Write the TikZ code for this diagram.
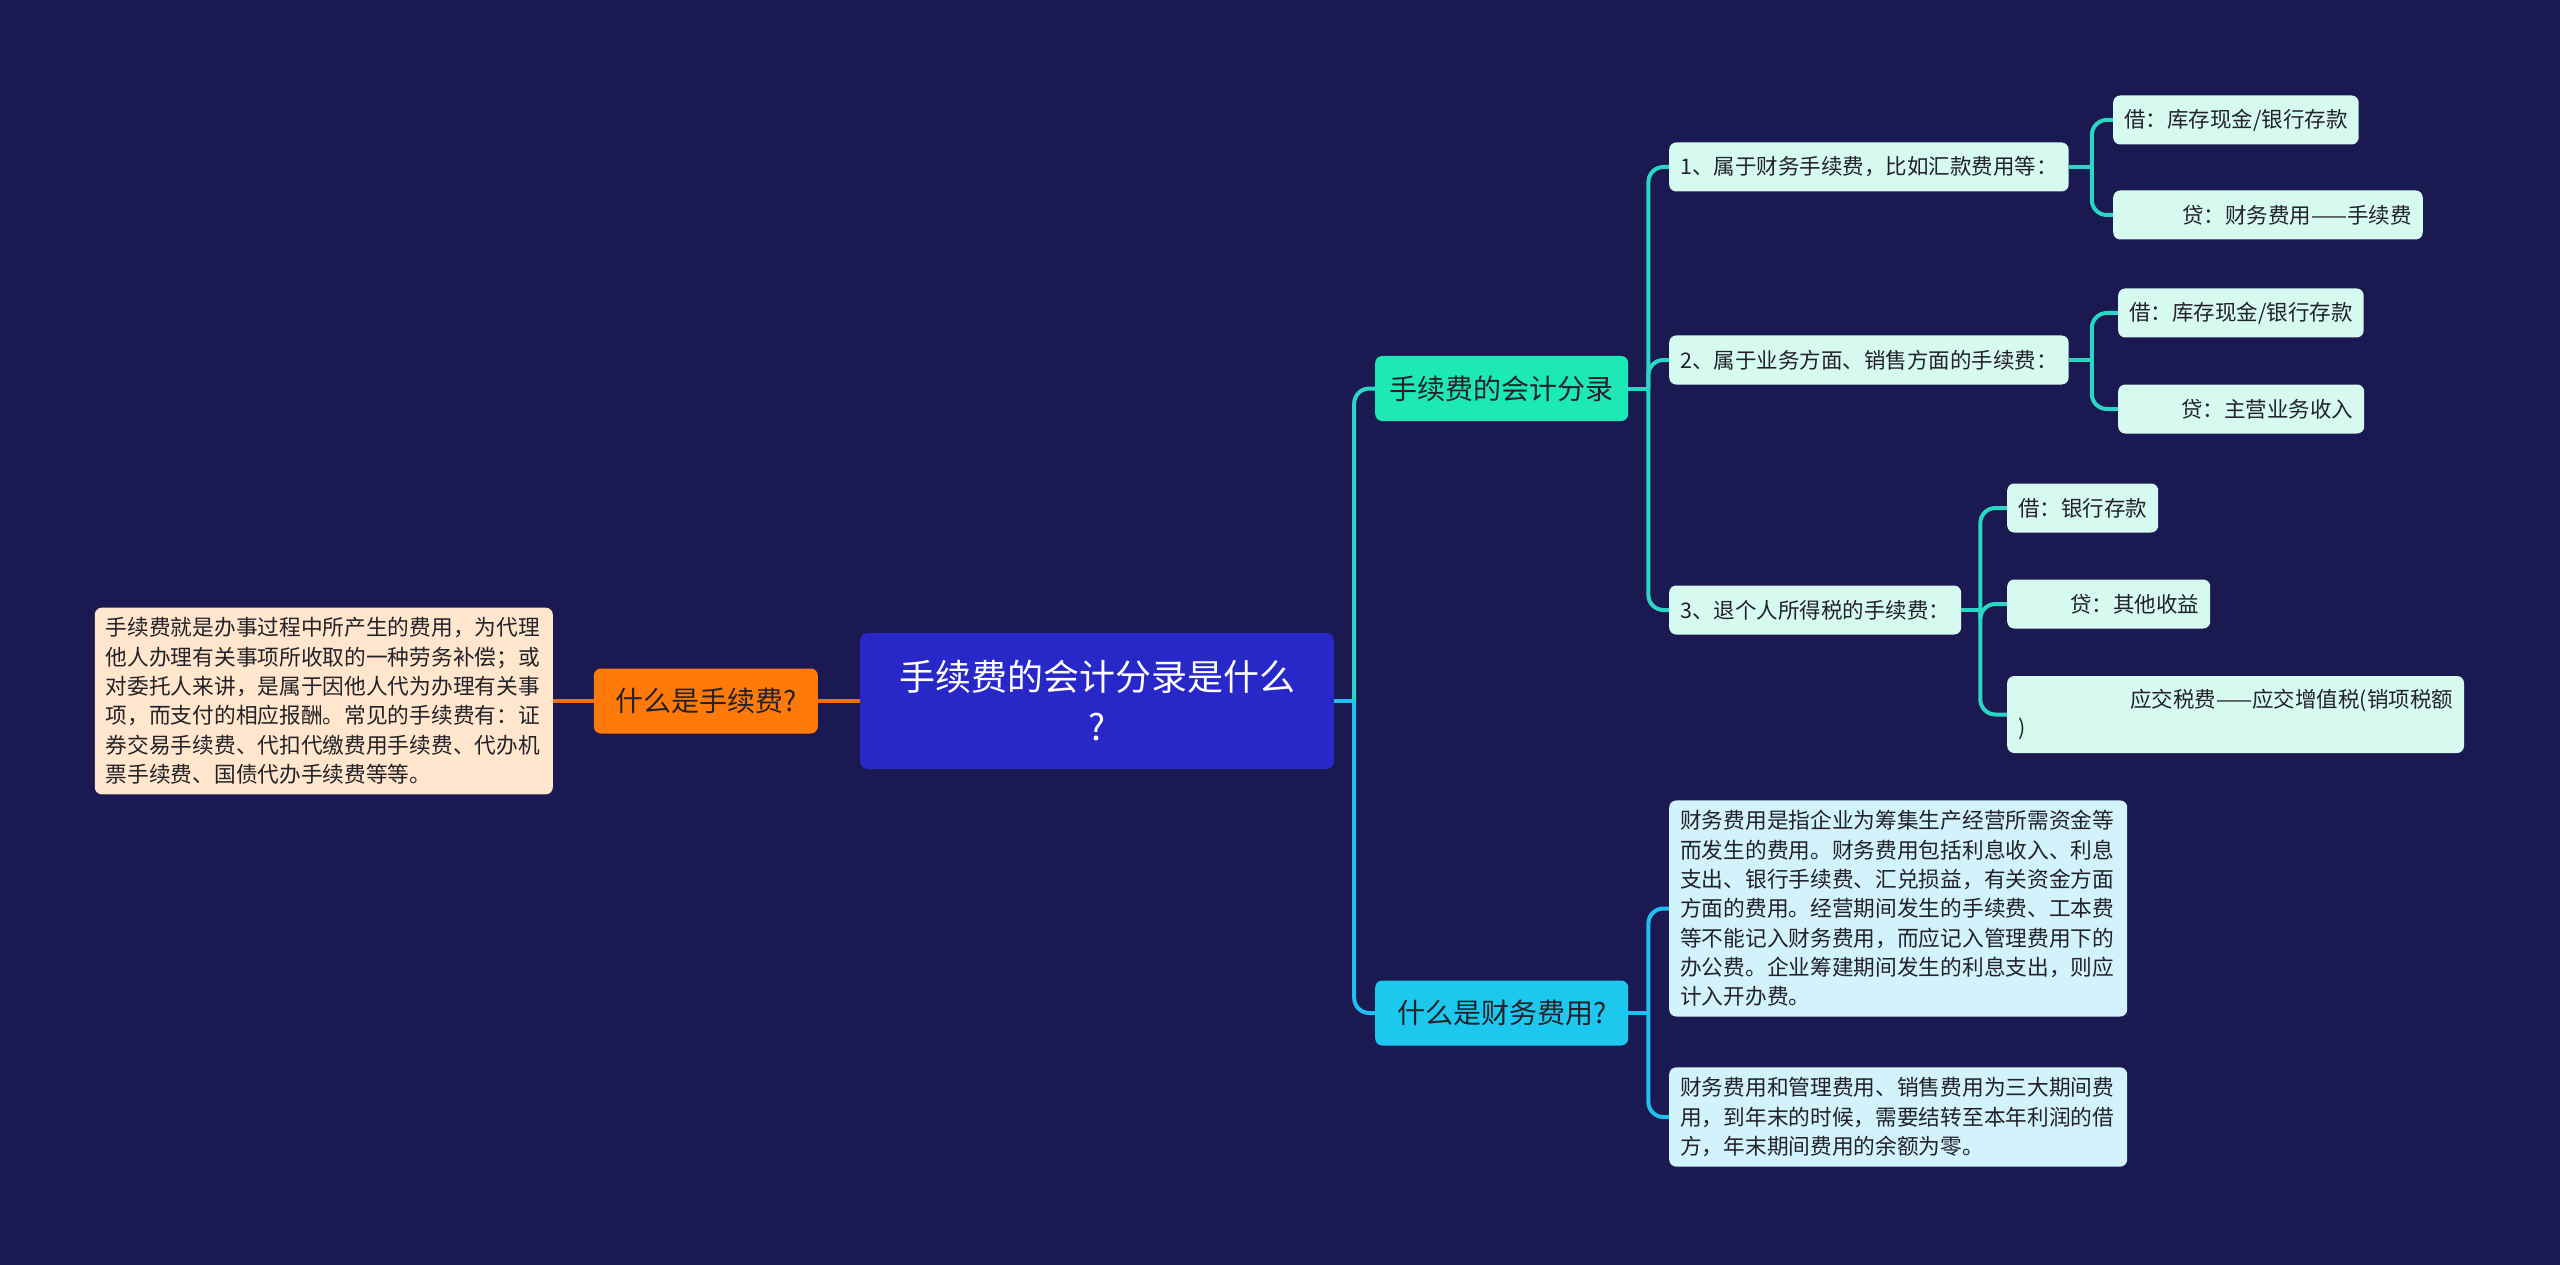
\documentclass[tikz,border=0pt]{standalone}
\usepackage{fontspec}
\setmainfont{Noto Sans CJK SC}
\usepackage{xcolor}
\usepackage{tikz}
\usetikzlibrary{positioning}
\definecolor{mmNavy}{RGB}{27,25,82}
\definecolor{mmRoot}{RGB}{40,40,200}
\definecolor{mmOrange}{RGB}{255,122,8}
\definecolor{mmOrangeLine}{RGB}{236,112,28}
\definecolor{mmPeach}{RGB}{255,230,205}
\definecolor{mmGreen}{RGB}{29,233,182}
\definecolor{mmCyan}{RGB}{28,200,238}
\definecolor{mmMint}{RGB}{214,250,240}
\definecolor{mmSky}{RGB}{210,242,252}
\definecolor{mmTeal}{RGB}{44,214,196}
\definecolor{mmSkyLine}{RGB}{35,190,240}
\definecolor{mmInk}{RGB}{34,34,40}

\begin{document}
\begin{tikzpicture}[x=1pt, y=-1pt,
  rootbox/.style={fill=mmRoot, rounded corners=8pt, text=white, align=center,
    minimum width=474pt, minimum height=136pt, inner sep=0pt,
    font=\fontsize{36}{50}\selectfont},
  topic/.style={rounded corners=7pt, text=mmInk, minimum width=253pt, minimum height=65pt,
    inner sep=0pt, font=\fontsize{28}{34}\selectfont},
  leaf/.style={fill=mmMint, rounded corners=7pt, text=mmInk, anchor=west, align=left,
    minimum height=49pt, inner xsep=11pt, inner ysep=0pt, font=\fontsize{21.5}{28}\selectfont},
  note/.style={rounded corners=7pt, text=mmInk, align=left, text width=436pt,
    inner xsep=11pt, inner ysep=10pt, font=\fontsize{21.7}{29.3}\selectfont},
  line/.style={line width=4pt, rounded corners=15pt},
  tealline/.style={line, draw=mmTeal},
  skyline/.style={line, draw=mmSkyLine},
  orangeline/.style={line, draw=mmOrangeLine}
]
\fill[mmNavy] (0,0) rectangle (2560,1265);

\node[rootbox] (root) at (1097,701) {手续费的会计分录是什么\\?};

\node[topic, fill=mmOrange, minimum width=224pt, anchor=east] (whatFee) at (818,701) {什么是手续费?};
\node[note, fill=mmPeach, anchor=east] (feeNote) at (553,701)
  {手续费就是办事过程中所产生的费用，为代理\\
   他人办理有关事项所收取的一种劳务补偿；或\\
   对委托人来讲，是属于因他人代为办理有关事\\
   项，而支付的相应报酬。常见的手续费有：证\\
   券交易手续费、代扣代缴费用手续费、代办机\\
   票手续费、国债代办手续费等等。};

\node[topic, fill=mmGreen, anchor=west] (entry) at (1375,388.5) {手续费的会计分录};
\node[topic, fill=mmCyan, anchor=west] (whatCost) at (1375,1013) {什么是财务费用?};

\node[leaf] (caseA) at (1669,167) {1、属于财务手续费，比如汇款费用等：};
\node[leaf] (caseB) at (1669,360) {2、属于业务方面、销售方面的手续费：};
\node[leaf] (caseC) at (1669,610) {3、退个人所得税的手续费：};

\node[leaf] (caseADebit) at (2113,120) {借：库存现金/银行存款};
\node[leaf] (caseACredit) at (2113,215) {\hspace*{58pt}贷：财务费用——手续费};
\node[leaf] (caseBDebit) at (2118,313) {借：库存现金/银行存款};
\node[leaf] (caseBCredit) at (2118,409) {\hspace*{52pt}贷：主营业务收入};
\node[leaf] (caseCDebit) at (2007,508) {借：银行存款};
\node[leaf] (caseCCredit) at (2007,604) {\hspace*{52pt}贷：其他收益};
\node[leaf, minimum height=77pt] (caseCTax) at (2007,714.5)
  {\hspace*{112pt}应交税费——应交增值税(销项税额\\)};

\node[note, fill=mmSky, anchor=west] (costDef) at (1669,908.5)
  {财务费用是指企业为筹集生产经营所需资金等\\
   而发生的费用。财务费用包括利息收入、利息\\
   支出、银行手续费、汇兑损益，有关资金方面\\
   方面的费用。经营期间发生的手续费、工本费\\
   等不能记入财务费用，而应记入管理费用下的\\
   办公费。企业筹建期间发生的利息支出，则应\\
   计入开办费。};
\node[note, fill=mmSky, anchor=west] (costYear) at (1669,1117)
  {财务费用和管理费用、销售费用为三大期间费\\
   用，到年末的时候，需要结转至本年利润的借\\
   方，年末期间费用的余额为零。};

\path (root.east) ++(20,0) coordinate (rootFork);
\path (entry.east) ++(20,0) coordinate (entryFork);
\path (whatCost.east) ++(20,0) coordinate (costFork);
\path (caseA.east) ++(23,0) coordinate (caseAFork);
\path (caseB.east) ++(23,0) coordinate (caseBFork);
\path (caseC.east) ++(19,0) coordinate (caseCFork);

\draw[orangeline] (root.west) -- (whatFee.east);
\draw[orangeline] (whatFee.west) -- (feeNote.east);

\draw[skyline] (root.east) -- (rootFork);
\draw[tealline] (rootFork) |- (entry.west);
\draw[skyline] (rootFork) |- (whatCost.west);

\draw[tealline] (entry.east) -- (entryFork);
\foreach \kid in {caseA,caseB,caseC}
  \draw[tealline] (entryFork) |- (\kid.west);

\draw[tealline] (caseA.east) -- (caseAFork);
\draw[tealline] (caseAFork) |- (caseADebit.west);
\draw[tealline] (caseAFork) |- (caseACredit.west);
\draw[tealline] (caseB.east) -- (caseBFork);
\draw[tealline] (caseBFork) |- (caseBDebit.west);
\draw[tealline] (caseBFork) |- (caseBCredit.west);
\draw[tealline] (caseC.east) -- (caseCFork);
\foreach \kid in {caseCDebit,caseCCredit,caseCTax}
  \draw[tealline] (caseCFork) |- (\kid.west);

\draw[skyline] (whatCost.east) -- (costFork);
\draw[skyline] (costFork) |- (costDef.west);
\draw[skyline] (costFork) |- (costYear.west);
\end{tikzpicture}
\end{document}
